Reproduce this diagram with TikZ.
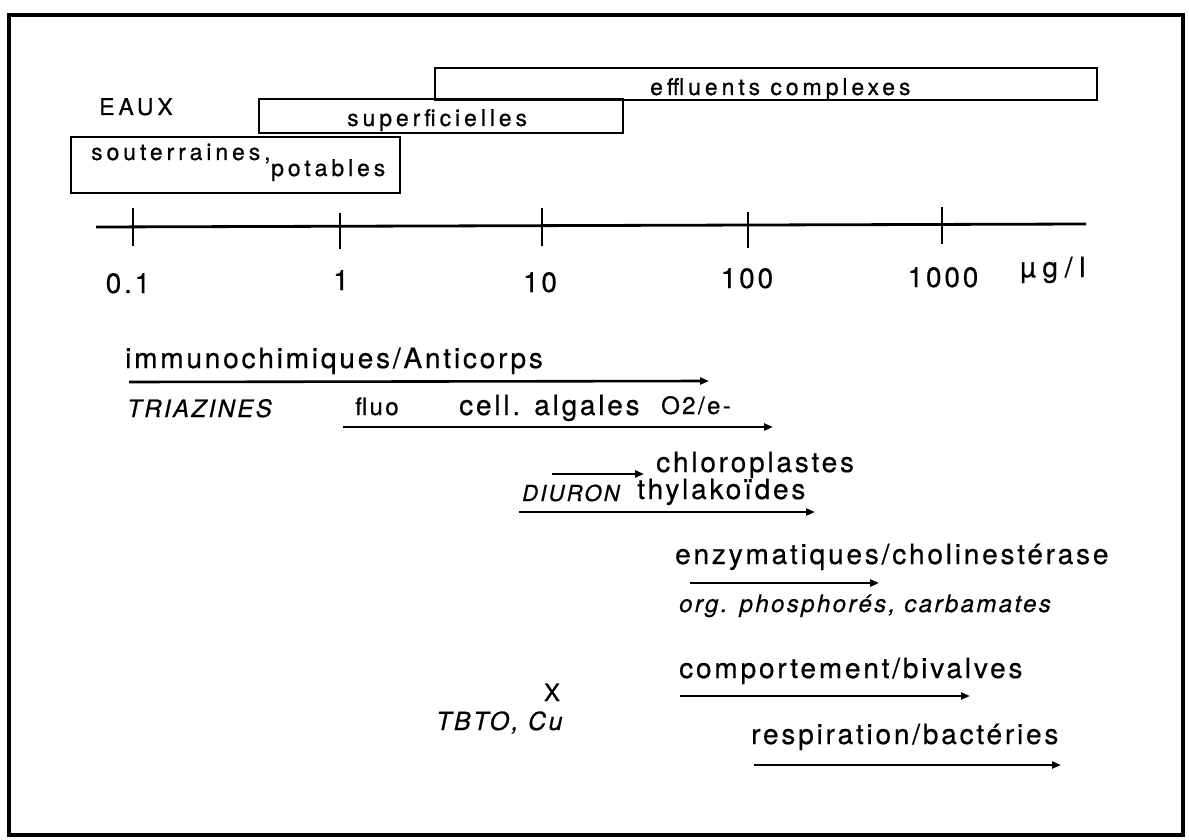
\documentclass[tikz,border=0pt]{standalone}
\usepackage{fontspec}
\setmainfont{TeX Gyre Heros}
\newfontfamily\ftop[LetterSpace=17,FakeBold=0.6]{TeX Gyre Heros}
\newfontfamily\flow[LetterSpace=10,FakeBold=0.6]{TeX Gyre Heros}
\newfontfamily\funit[LetterSpace=24,FakeBold=0.6]{TeX Gyre Heros}
\usetikzlibrary{arrows.meta}
\begin{document}
\begin{tikzpicture}[x=1pt,y=-1pt,
  toplab/.style={anchor=base west,inner sep=0pt,font=\ftop\fontsize{23}{26}\selectfont},
  lab/.style={anchor=base west,inner sep=0pt,font=\flow\fontsize{28}{32}\selectfont},
  smlab/.style={anchor=base west,inner sep=0pt,font=\flow\fontsize{24}{28}\selectfont},
  itlab/.style={anchor=base west,inner sep=0pt,font=\flow\itshape\fontsize{24}{28}\selectfont},
  num/.style={anchor=base,inner sep=0pt,font=\flow\fontsize{28}{32}\selectfont},
  wbox/.style={draw,line width=2pt,inner sep=0pt},
  rangearrow/.style={line width=2.6pt,-{Triangle[length=9pt,width=7pt]}},
  tick/.style={line width=2.4pt}]
\useasboundingbox (0,0) rectangle (1189,840);
\draw[line width=4pt] (9,15) rectangle (1183,835);
% water boxes
\node[wbox,minimum width=662pt,minimum height=32pt] (bEff) at (766,84) {};
\node[wbox,minimum width=364pt,minimum height=34pt] (bSup) at (441,116) {};
\node[wbox,minimum width=329pt,minimum height=56pt] (bSou) at (235.5,165) {};
\node[toplab] (eaux) at (99,115) {EAUX};
\node[toplab] (sout) at (91,160) {souterraines,};
\node[toplab] (pot) at (271,176) {potables};
\node[toplab] (sup) at (347,126) {superficielles};
\node[toplab] (eff) at (650,95) {effluents complexes};
% axis
\coordinate (axL) at (96,227);
\coordinate (axR) at (1086,224);
\draw[line width=2.8pt] (axL) -- (axR);
\foreach \n/\x/\ya/\yb in {t1/133/208/246, t2/340/213/249, t3/542/208/246, t4/748/212/248, t5/942/207/244}{
  \coordinate (\n a) at (\x,\ya);
  \coordinate (\n b) at (\x,\yb);
  \draw[tick] (\n a) -- (\n b);
}
\node[num] (n1) at (128,293) {0.1};
\node[num] (n2) at (341,290) {1};
\node[num] (n3) at (540,292) {10};
\node[num] (n4) at (747,288) {100};
\node[num] (n5) at (943,287) {1000};
\node[anchor=base west,inner sep=0pt,font=\funit\fontsize{28}{32}\selectfont] (unit) at (1020,277) {µg/l};
% methods
\node[lab] (immuno) at (125,368) {immunochimiques/Anticorps};
\coordinate (a1s) at (129,382); \coordinate (a1e) at (709,381);
\draw[rangearrow] (a1s) -- (a1e);
\node[itlab] (triaz) at (127,417) {TRIAZINES};
\node[smlab] (fluo) at (355,415) {fluo};
\node[lab] (cell) at (459,415) {cell. algales};
\node[smlab] (o2) at (661,414) {O2/e-};
\coordinate (a2s) at (343,427); \coordinate (a2e) at (773,427);
\draw[rangearrow] (a2s) -- (a2e);
\node[lab] (chloro) at (656,472) {chloroplastes};
\coordinate (a3s) at (552,474); \coordinate (a3e) at (644,474);
\draw[rangearrow] (a3s) -- (a3e);
\node[itlab,font=\flow\itshape\fontsize{22}{26}\selectfont] (diuron) at (522,501) {DIURON};
\node[lab] (thyl) at (637,499) {thylakoïdes};
\coordinate (a4s) at (519,512); \coordinate (a4e) at (815,512);
\draw[rangearrow] (a4s) -- (a4e);
\node[lab] (enz) at (675,564) {enzymatiques/cholinestérase};
\coordinate (a5s) at (690,583); \coordinate (a5e) at (879,583);
\draw[rangearrow] (a5s) -- (a5e);
\node[itlab] (org) at (679,612) {org. phosphorés, carbamates};
\node[lab] (comp) at (679,678) {comportement/bivalves};
\coordinate (a6s) at (680,696); \coordinate (a6e) at (970,696);
\draw[rangearrow] (a6s) -- (a6e);
\node[anchor=base,inner sep=0pt,font=\flow\fontsize{24}{28}\selectfont] (xmark) at (552,701) {X};
\node[itlab,font=\flow\itshape\fontsize{25}{29}\selectfont] (tbto) at (436,730) {TBTO, Cu};
\node[lab] (resp) at (751,744) {respiration/bactéries};
\coordinate (a7s) at (754,765); \coordinate (a7e) at (1061,765);
\draw[rangearrow] (a7s) -- (a7e);
\end{tikzpicture}
\end{document}
